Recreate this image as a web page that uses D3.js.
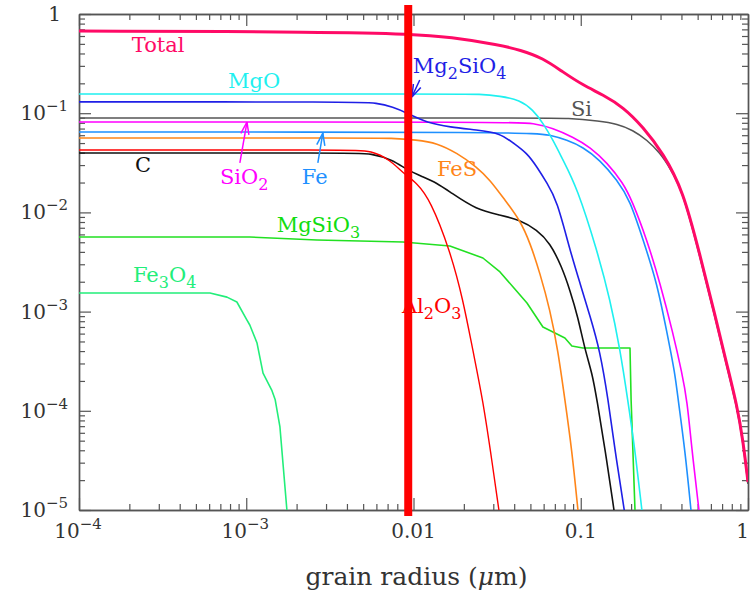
<!DOCTYPE html>
<html><head><meta charset="utf-8">
<script src="https://cdn.jsdelivr.net/npm/d3@7/dist/d3.min.js"></script>
<style>body{margin:0;background:#fff}</style>
</head><body>
<svg id="c" width="750" height="591"></svg>
<script>
// ---- tick data ----
const xTicks = [1e-4, 1e-3, 0.01, 0.1, 1];
const xTickLabels = [["10", "−4"], ["10", "−3"], ["0.01", ""], ["0.1", ""], ["1", ""]];
const yTicks = [1, 0.1, 0.01, 1e-3, 1e-4, 1e-5];
const yTickLabels = [["1", ""], ["10", "−1"], ["10", "−2"], ["10", "−3"], ["10", "−4"], ["10", "−5"]];
const markerRadius = 0.0093;

// ---- series data (radius in micron, value) ----
const totalR = [1e-4, 3.16e-3, 0.00978, 0.0165, 0.0329, 0.0433, 0.0594, 0.0782, 0.103, 0.136, 0.179, 0.236, 0.310, 0.409, 0.516, 0.635, 0.748, 0.859, 0.933, 1.0];
const totalV = [0.674, 0.659, 0.629, 0.586, 0.487, 0.434, 0.360, 0.260, 0.192, 0.153, 0.1155, 0.0726, 0.0397, 0.0168, 0.00372, 9.24e-4, 2.90e-4, 1.14e-4, 5.08e-5, 1.91e-5];

const mgoR = [1e-4, 0.018, 0.0249, 0.0329, 0.0433, 0.0518, 0.0594, 0.0682, 0.0782, 0.0948, 0.125, 0.150, 0.172, 0.191, 0.211, 0.232];
const mgoV = [0.156, 0.156, 0.156, 0.149, 0.136, 0.108, 0.0796, 0.0537, 0.0338, 0.0180, 0.00418, 0.00131, 4.10e-4, 1.29e-4, 4.03e-5, 1e-5];

const mg2sio4R = [1e-4, 4.5e-3, 6.04e-3, 7.53e-3, 9.14e-3, 0.0121, 0.0165, 0.0239, 0.0329, 0.0394, 0.0477, 0.0547, 0.0628, 0.0720, 0.0861, 0.0989, 0.114, 0.130, 0.146, 0.160, 0.182];
const mg2sio4V = [0.130, 0.130, 0.127, 0.1155, 0.1005, 0.0796, 0.0726, 0.0677, 0.0631, 0.0501, 0.0397, 0.0287, 0.0198, 0.0133, 0.00418, 0.00194, 8.83e-4, 4.10e-4, 1.29e-4, 4.03e-5, 1e-5];

const siR = [1e-4, 0.06, 0.0826, 0.130, 0.165, 0.205, 0.249, 0.298, 0.342, 0.409, 0.516, 0.635, 0.748, 0.859, 0.933, 1.0];
const siV = [0.0895, 0.0895, 0.0895, 0.0834, 0.0778, 0.0677, 0.0537, 0.0397, 0.0280, 0.0161, 0.00355, 8.83e-4, 2.77e-4, 1.09e-4, 4.85e-5, 1.83e-5];

const sio2R = [1e-4, 0.04, 0.0518, 0.0682, 0.0897, 0.114, 0.144, 0.179, 0.202, 0.249, 0.298, 0.356, 0.403, 0.432, 0.462, 0.509];
const sio2V = [0.0815, 0.0815, 0.0796, 0.0709, 0.0575, 0.0456, 0.0315, 0.0198, 0.0133, 0.00527, 0.00194, 6.08e-4, 2.40e-4, 1.29e-4, 4.03e-5, 1e-5];

const feR = [1e-4, 0.05, 0.0655, 0.0826, 0.103, 0.130, 0.165, 0.197, 0.236, 0.286, 0.328, 0.366, 0.382, 0.420, 0.456];
const feV = [0.0646, 0.0646, 0.0603, 0.0537, 0.0456, 0.0338, 0.0212, 0.0133, 0.00527, 0.00194, 6.08e-4, 2.40e-4, 1.29e-4, 4.03e-5, 1e-5];

const fesR = [1e-4, 5.5e-3, 7.23e-3, 0.0105, 0.0138, 0.0182, 0.0239, 0.0287, 0.0352, 0.0433, 0.0498, 0.0570, 0.0655, 0.0730, 0.0804, 0.0885, 0.0962];
const fesV = [0.0562, 0.0562, 0.0562, 0.0537, 0.0501, 0.0397, 0.0287, 0.0212, 0.0133, 0.00838, 0.00492, 0.00245, 0.00104, 4.10e-4, 1.29e-4, 4.03e-5, 1e-5];

const al2o3R = [1e-4, 4.2e-3, 5.6e-3, 7.23e-3, 8.65e-3, 0.0105, 0.0126, 0.0165, 0.0198, 0.0226, 0.0260, 0.0298, 0.0324];
const al2o3V = [0.0426, 0.0426, 0.0420, 0.0338, 0.0250, 0.0198, 0.0133, 0.00418, 0.00131, 4.10e-4, 1.29e-4, 2.71e-5, 1e-5];

const cR = [1e-4, 4.2e-3, 5.6e-3, 7.53e-3, 9.14e-3, 0.0114, 0.0138, 0.0165, 0.0239, 0.0329, 0.0433, 0.0547, 0.0655, 0.0771, 0.0861, 0.0962, 0.106, 0.117, 0.125, 0.140, 0.158];
const cV = [0.0397, 0.0397, 0.0394, 0.0338, 0.0268, 0.0228, 0.0198, 0.0161, 0.0106, 0.00941, 0.00838, 0.00665, 0.00492, 0.00282, 0.00165, 8.83e-4, 4.10e-4, 2.40e-4, 1.29e-4, 4.03e-5, 1e-5];

const mgsio3R = [1e-4, 1.05e-3, 2.65e-3, 8.65e-3, 0.0165, 0.0260, 0.0329, 0.0394, 0.0477, 0.0594, 0.0682, 0.0804, 0.0885, 0.103, 0.197, 0.200, 0.211];
const mgsio3V = [0.00565, 0.00565, 0.00527, 0.00503, 0.00459, 0.00347, 0.00251, 0.00177, 0.00122, 7.00e-4, 6.22e-4, 5.42e-4, 4.50e-4, 4.30e-4, 4.30e-4, 1.29e-4, 1e-5];

const fe3o4R = [1e-4, 6.07e-4, 7.67e-4, 8.79e-4, 1.01e-3, 1.05e-3, 1.16e-3, 1.26e-3, 1.42e-3, 1.49e-3, 1.59e-3, 1.75e-3];
const fe3o4V = [0.00154, 0.00154, 0.00140, 0.00125, 8.22e-4, 7.33e-4, 4.82e-4, 2.40e-4, 1.62e-4, 1.29e-4, 6.87e-5, 1e-5];

// ---- layout ----
const L = 79, R = 748, T = 14, B = 510;
const x = d3.scaleLog().domain([1e-4, 1]).range([L, R]);
const y = d3.scaleLog().domain([1e-5, 1]).range([B, T]);
const svg = d3.select("#c");
const FONT = "'DejaVu Serif', serif";
const AXC = "#555";

svg.append("defs").append("clipPath").attr("id", "clip")
  .append("rect").attr("x", L).attr("y", T).attr("width", R - L).attr("height", B - T);

// ---- axes (ticks inward, all four sides) ----
const minor = [];
for (let e = -5; e < 0; e++) for (let m = 2; m <= 9; m++) minor.push(m * Math.pow(10, e));
const xMinor = minor.filter(v => v > 1e-4 && v < 1);
const yMinor = minor.filter(v => v > 1e-5 && v < 1);

function drawAxis(gen, transform, ticks, size) {
  const g = svg.append("g").attr("transform", transform)
    .call(gen.tickValues(ticks).tickSizeInner(-size).tickSizeOuter(0).tickFormat(""));
  g.selectAll("line").attr("stroke", AXC).attr("stroke-width", 1.2);
  g.select(".domain").attr("stroke", AXC).attr("stroke-width", 1.4);
}
drawAxis(d3.axisBottom(x), `translate(0,${B})`, xTicks, 12);
drawAxis(d3.axisBottom(x), `translate(0,${B})`, xMinor, 6);
drawAxis(d3.axisTop(x), `translate(0,${T})`, xTicks, 12);
drawAxis(d3.axisTop(x), `translate(0,${T})`, xMinor, 6);
drawAxis(d3.axisLeft(y), `translate(${L},0)`, yTicks, 12);
drawAxis(d3.axisLeft(y), `translate(${L},0)`, yMinor, 6);
drawAxis(d3.axisRight(y), `translate(${R},0)`, yTicks, 12);
drawAxis(d3.axisRight(y), `translate(${R},0)`, yMinor, 6);

// tick labels
xTicks.forEach((t, i) => {
  const [base, sup] = xTickLabels[i];
  const last = i === xTicks.length - 1;
  const tx = svg.append("text").attr("x", last ? x(t) + 1 : x(t) + (sup ? -1 : 0)).attr("y", B + 28)
    .attr("text-anchor", last ? "end" : "middle").attr("font-family", FONT).attr("font-size", 20).attr("fill", "#333");
  tx.append("tspan").text(base);
  if (sup) tx.append("tspan").attr("dy", -9).attr("font-size", 15).text(sup);
});
yTicks.forEach((t, i) => {
  const [base, sup] = yTickLabels[i];
  const tx = svg.append("text").attr("x", sup ? 68 : 61).attr("y", y(t) + 7)
    .attr("text-anchor", "end").attr("font-family", FONT).attr("font-size", 20).attr("fill", "#333");
  tx.append("tspan").text(base);
  if (sup) tx.append("tspan").attr("dy", -9).attr("font-size", 15).text(sup);
});

// axis title
const xt = svg.append("text").attr("x", (L + R) / 2 + 3).attr("y", 585).attr("text-anchor", "middle")
  .attr("font-family", FONT).attr("font-size", 25).attr("fill", "#333");
xt.append("tspan").text("grain radius (");
xt.append("tspan").attr("font-style", "italic").text("μ");
xt.append("tspan").text("m)");

// ---- lines ----
const smooth = d3.curveBasis;
const series = [
  {r: fe3o4R, v: fe3o4V, c: "#22ee7a", w: 1.6, curve: d3.curveLinear},
  {r: mgsio3R, v: mgsio3V, c: "#22e022", w: 1.6, curve: d3.curveLinear},
  {r: cR, v: cV, c: "#111111", w: 1.6, curve: smooth},
  {r: al2o3R, v: al2o3V, c: "#ff0000", w: 1.4, curve: smooth},
  {r: fesR, v: fesV, c: "#ff8519", w: 1.6, curve: smooth},
  {r: feR, v: feV, c: "#1e90ff", w: 1.6, curve: smooth},
  {r: sio2R, v: sio2V, c: "#ff00ff", w: 1.6, curve: smooth},
  {r: siR, v: siV, c: "#555555", w: 1.6, curve: smooth},
  {r: mg2sio4R, v: mg2sio4V, c: "#1f1fe6", w: 1.6, curve: smooth},
  {r: mgoR, v: mgoV, c: "#1ff0f0", w: 1.6, curve: smooth},
  {r: totalR, v: totalV, c: "#ff0a66", w: 3, curve: smooth}
];
const lg = svg.append("g").attr("clip-path", "url(#clip)");
series.forEach(s => {
  const pts = s.r.map((r, i) => [r, s.v[i]]);
  lg.append("path").datum(pts)
    .attr("d", d3.line().x(d => x(d[0])).y(d => y(d[1])).curve(s.curve))
    .attr("fill", "none").attr("stroke", s.c).attr("stroke-width", s.w)
    .attr("stroke-linejoin", "round");
});

// ---- labels ----
function label(parts, r, v, color) {
  const t = svg.append("text").attr("x", x(r)).attr("y", y(v))
    .attr("font-family", FONT).attr("font-size", 21).attr("fill", color);
  let shifted = false;
  parts.forEach(p => {
    if (p.sub) {
      t.append("tspan").attr("dy", shifted ? 0 : 6).attr("font-size", 16).text(p.sub);
      shifted = true;
    } else {
      t.append("tspan").attr("dy", shifted ? -6 : 0).text(p.t);
      shifted = false;
    }
  });
}
label([{t: "Total"}], 2.07e-4, 0.414, "#ff0a66");
label([{t: "MgO"}], 7.78e-4, 0.1795, "#1ff0f0");
label([{t: "Mg"}, {sub: "2"}, {t: "SiO"}, {sub: "4"}], 0.0099, 0.254, "#1f1fe6");
label([{t: "Si"}], 0.0873, 0.0937, "#555555");
label([{t: "SiO"}, {sub: "2"}], 6.96e-4, 0.0193, "#ff00ff");
label([{t: "Fe"}], 2.15e-3, 0.0193, "#1e90ff");
label([{t: "C"}], 2.16e-4, 0.0255, "#111111");
label([{t: "FeS"}], 0.0138, 0.0233, "#ff8519");
label([{t: "MgSiO"}, {sub: "3"}], 1.52e-3, 0.00634, "#11dd11");
label([{t: "Fe"}, {sub: "3"}, {t: "O"}, {sub: "4"}], 2.10e-4, 0.00199, "#22ee7a");
label([{t: "Al"}, {sub: "2"}, {t: "O"}, {sub: "3"}], 8.53e-3, 9.68e-4, "#ff0000");

// arrows
function arrow(r0, v0, r1, v1, color) {
  const x0 = x(r0), y0 = y(v0), x1 = x(r1), y1 = y(v1);
  const a = Math.atan2(y1 - y0, x1 - x0), len = 13, spread = 0.32;
  const g = svg.append("g").attr("stroke", color).attr("stroke-width", 1.5).attr("fill", "none");
  g.append("line").attr("x1", x0).attr("y1", y0).attr("x2", x1).attr("y2", y1);
  [-spread, spread].forEach(s => {
    g.append("line").attr("x1", x1).attr("y1", y1)
      .attr("x2", x1 - len * Math.cos(a + s)).attr("y2", y1 - len * Math.sin(a + s));
  });
}
arrow(0.0109, 0.216, 0.00978, 0.146, "#1f1fe6");
arrow(9.16e-4, 0.0315, 1.01e-3, 0.0815, "#ff00ff");
arrow(2.68e-3, 0.0315, 2.87e-3, 0.0631, "#1e90ff");

// ---- vertical marker ----
svg.append("line").attr("x1", x(markerRadius)).attr("x2", x(markerRadius))
  .attr("y1", y(Math.pow(10, 0.09))).attr("y2", y(Math.pow(10, -5.06)))
  .attr("stroke", "#ff0000").attr("stroke-width", 8);
</script>
</body></html>
